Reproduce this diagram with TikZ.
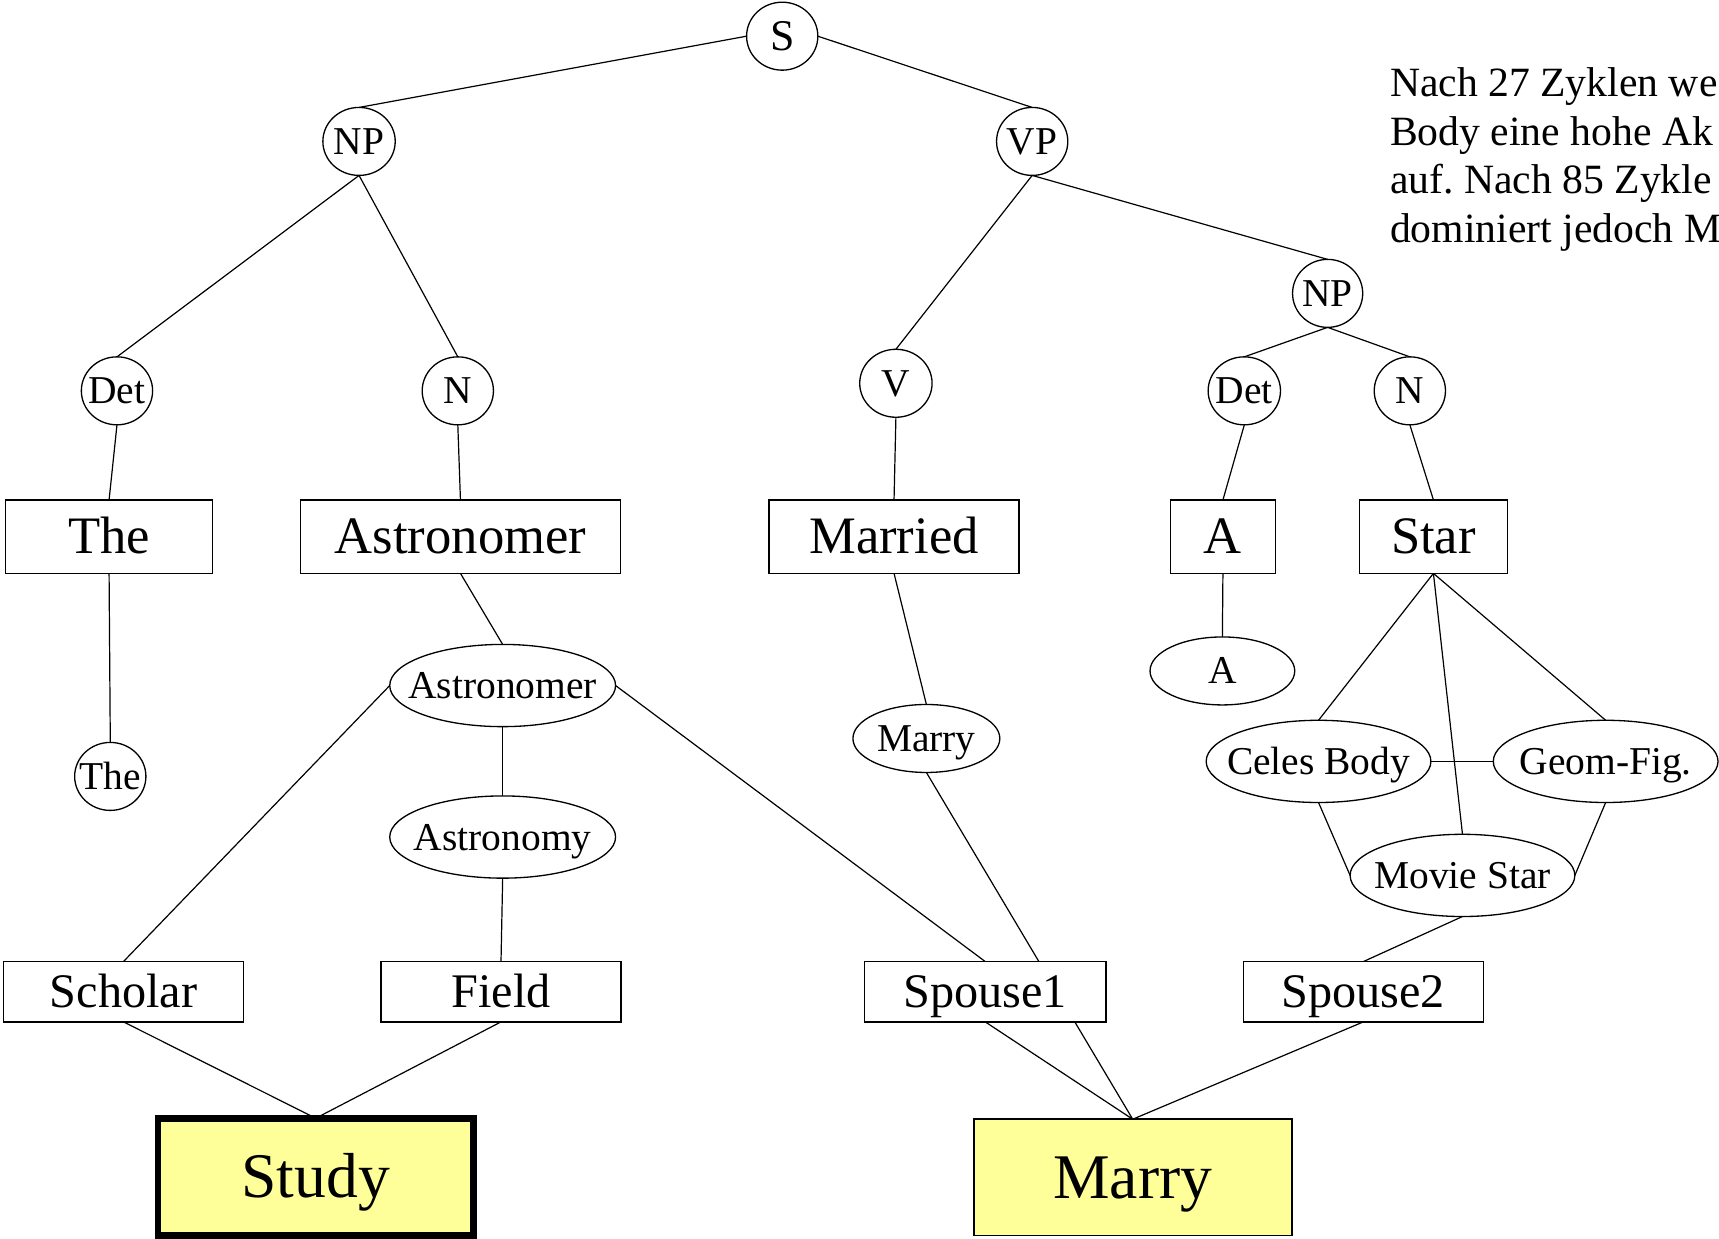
\documentclass[tikz,border=0pt]{standalone}
\usepackage{fontspec}
\setmainfont{Liberation Serif}
\usetikzlibrary{shapes.geometric,backgrounds}
\definecolor{goalyellow}{RGB}{255,255,153}
\newcommand\cbx[1]{\makebox[0pt]{#1}}
\frenchspacing
\begin{document}
\begin{tikzpicture}[x=0.5pt,y=-0.5pt,
  every node/.style={inner sep=0pt, outer sep=0pt},
  sz/.style 2 args={minimum width=#1*0.5pt, minimum height=#2*0.5pt},
  cat/.style={ellipse, draw, fill=white, line width=0.6pt, font=\fontsize{18}{22}\selectfont, text height=13.5pt, text depth=1.6pt},
  wbox/.style={rectangle, draw, fill=white, line width=0.7pt, font=\fontsize{24}{28}\selectfont, text height=18pt, text depth=2.2pt},
  rbox/.style={rectangle, draw, fill=white, line width=0.7pt, font=\fontsize{22}{26}\selectfont, text height=16.5pt, text depth=2pt},
  goal/.style={rectangle, draw, fill=goalyellow, font=\fontsize{29}{34}\selectfont, text height=21.8pt, text depth=2.6pt},
  note/.style={anchor=base west, font=\fontsize{19}{22}\selectfont},
  edge/.style={draw, line width=0.55pt}
]
\useasboundingbox (0,0) rectangle (1568,1130);

% syntax tree
\node[cat, sz={65}{62}, font=\fontsize{20}{24}\selectfont, text height=14.5pt] (S) at (713.5,33) {\cbx{S}};
\node[cat, sz={66}{62}] (NPa) at (327.5,129) {\cbx{NP}};
\node[cat, sz={65}{62}] (VP) at (941.5,129) {\cbx{VP}};
\node[cat, sz={65}{62}] (Deta) at (106.7,356.5) {\cbx{Det}};
\node[cat, sz={65}{62}] (Na) at (417.6,356.5) {\cbx{N}};
\node[cat, sz={66}{62}] (V) at (817.2,349.6) {\cbx{V}};
\node[cat, sz={64}{62}] (NPb) at (1211,267.6) {\cbx{NP}};
\node[cat, sz={66}{62}] (Detb) at (1135,356.5) {\cbx{Det}};
\node[cat, sz={65}{62}] (Nb) at (1286,356.5) {\cbx{N}};

% word boxes
\node[wbox, sz={189}{67}] (The) at (99.5,489.5) {The};
\node[wbox, sz={292}{67}] (Astr) at (420,489.5) {Astronomer};
\node[wbox, sz={228}{67}] (Married) at (815.5,489.5) {Married};
\node[wbox, sz={96}{67}] (Abox) at (1115.5,489.5) {A};
\node[wbox, sz={135}{67}] (Star) at (1307.5,489.5) {Star};

% concept ellipses
\node[cat, sz={206}{75}] (AstrE) at (458.5,625.3) {\cbx{Astronomer}};
\node[cat, sz={65}{62}] (TheE) at (100.6,708.2) {\cbx{The}};
\node[cat, sz={206}{75}] (Astronomy) at (458.5,763.5) {\cbx{Astronomy}};
\node[cat, sz={134}{62}] (MarryE) at (845,673.6) {\cbx{Marry}};
\node[cat, sz={132}{62}] (AE) at (1115,612) {\cbx{A}};
\node[cat, sz={205}{75}] (Celes) at (1202.7,694.5) {\cbx{Celes Body}};
\node[cat, sz={205}{75}] (Geom) at (1464.6,694.5) {\cbx{Geom-Fig.}};
\node[cat, sz={205}{75}] (Movie) at (1334,798.5) {\cbx{Movie Star}};

% role boxes
\node[rbox, sz={219}{55}] (Scholar) at (112.6,904.6) {Scholar};
\node[rbox, sz={219}{55}] (Field) at (457,904.6) {Field};
\node[rbox, sz={220}{55}] (Sp1) at (898.7,904.6) {Spouse1};
\node[rbox, sz={219}{55}] (Sp2) at (1243.6,904.6) {Spouse2};

% goal boxes
\node[goal, line width=3pt, sz={288}{107}] (Study) at (288,1073.5) {Study};
\node[goal, line width=0.8pt, sz={290}{106}] (Marry) at (1033.2,1073.9) {Marry};

% note text
\node[note] (t1) at (1268,88.2) {Nach 27 Zyklen we};
\node[note] (t2) at (1268,132.5) {Body eine hohe Ak};
\node[note] (t3) at (1268,176.8) {auf. Nach 85 Zykle};
\node[note] (t4) at (1268,221.1) {dominiert jedoch M};

\begin{pgfonlayer}{background}
\fill[white] (0,0) rectangle (1568,1130);
\path[edge] (S.west) -- (NPa.north);
\path[edge] (S.east) -- (VP.north);
\path[edge] (NPa.south) -- (Deta.north);
\path[edge] (NPa.south) -- (Na.north);
\path[edge] (VP.south) -- (V.north);
\path[edge] (VP.south) -- (NPb.north);
\path[edge] (NPb.south) -- (Detb.north);
\path[edge] (NPb.south) -- (Nb.north);
\path[edge] (Deta.south) -- (The.north);
\path[edge] (Na.south) -- (Astr.north);
\path[edge] (V.south) -- (Married.north);
\path[edge] (Detb.south) -- (Abox.north);
\path[edge] (Nb.south) -- (Star.north);
\path[edge] (The.south) -- (TheE.north);
\path[edge] (Astr.south) -- (AstrE.north);
\path[edge] (AstrE.south) -- (Astronomy.north);
\path[edge] (AstrE.west) -- (Scholar.north);
\path[edge] (AstrE.east) -- (Sp1.north);
\path[edge] (Astronomy.south) -- (Field.north);
\path[edge] (Married.south) -- (MarryE.north);
\path[edge] (MarryE.south) -- (Marry.north);
\path[edge] (Abox.south) -- (AE.north);
\path[edge] (Star.south) -- (Celes.north);
\path[edge] (Star.south) -- (Geom.north);
\path[edge] (Star.south) -- (Movie.north);
\path[edge] (Celes.east) -- (Geom.west);
\path[edge] (Celes.south) -- (Movie.west);
\path[edge] (Geom.south) -- (Movie.east);
\path[edge] (Movie.south) -- (Sp2.north);
\path[edge] (Scholar.south) -- (Study.north);
\path[edge] (Field.south) -- (Study.north);
\path[edge] (Sp1.south) -- (Marry.north);
\path[edge] (Sp2.south) -- (Marry.north);
\end{pgfonlayer}
\end{tikzpicture}
\end{document}
